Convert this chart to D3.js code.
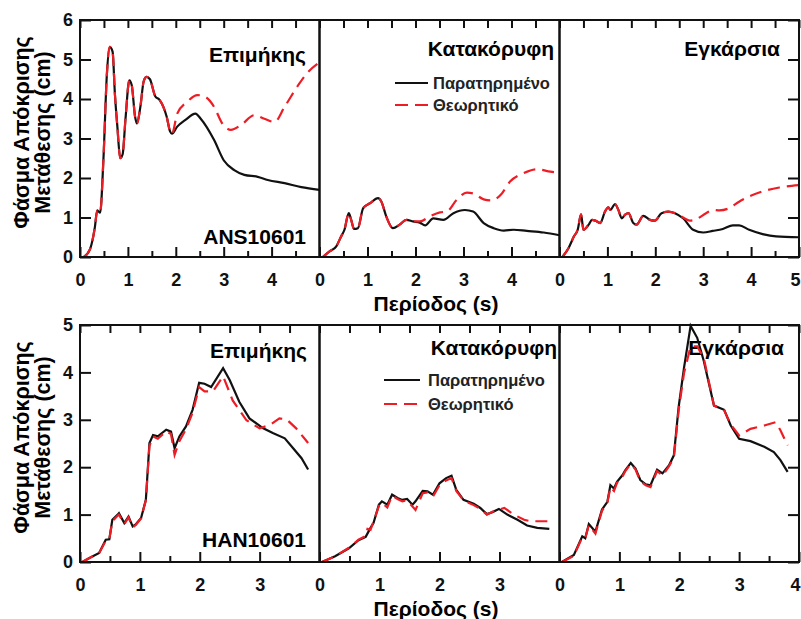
<!DOCTYPE html>
<html>
<head>
<meta charset="utf-8">
<script src="https://cdn.jsdelivr.net/npm/d3@7"></script>
<style>
  body { margin: 0; background: #fff; }
  svg { display: block; }
</style>
</head>
<body>
<div id="chart"></div>
<script>
'use strict';

// ---- data: [period (s), displacement (cm)] ----
const ansLongObs = [[0.08,0],[0.21,0.2],[0.31,0.75],[0.36,1.18],[0.42,1.12],[0.49,2.5],[0.56,4.6],[0.62,5.32],[0.68,5.2],[0.73,4.1],[0.78,3.3],[0.84,2.5],[0.89,2.6],[0.95,3.5],[1.03,4.47],[1.08,4.35],[1.15,3.55],[1.19,3.38],[1.26,3.8],[1.33,4.45],[1.39,4.56],[1.46,4.5],[1.57,4.07],[1.66,3.98],[1.74,3.8],[1.81,3.55],[1.88,3.18],[1.92,3.12],[2.03,3.3],[2.2,3.47],[2.41,3.63],[2.52,3.5],[2.8,2.96],[3.0,2.45],[3.22,2.2],[3.43,2.08],[3.71,2.03],[3.92,1.95],[4.27,1.87],[4.62,1.77],[5.0,1.7]];
const ansLongTheo = [[0.08,0],[0.21,0.2],[0.31,0.75],[0.36,1.18],[0.42,1.12],[0.49,2.5],[0.56,4.6],[0.62,5.32],[0.68,5.2],[0.73,4.1],[0.78,3.3],[0.84,2.5],[0.89,2.6],[0.95,3.5],[1.03,4.47],[1.08,4.35],[1.15,3.55],[1.19,3.38],[1.26,3.8],[1.33,4.45],[1.39,4.56],[1.46,4.5],[1.57,4.07],[1.66,3.98],[1.74,3.8],[1.81,3.55],[1.88,3.18],[1.92,3.12],[2.03,3.63],[2.24,3.93],[2.45,4.1],[2.62,4.05],[2.8,3.8],[2.97,3.38],[3.15,3.22],[3.36,3.34],[3.64,3.59],[3.85,3.5],[4.06,3.42],[4.27,3.8],[4.55,4.34],[4.76,4.68],[5.0,4.93]];

const ansVertObs = [[0.07,0],[0.21,0.14],[0.35,0.27],[0.45,0.52],[0.52,0.69],[0.61,1.11],[0.66,0.94],[0.72,0.71],[0.8,0.73],[0.91,1.24],[1.05,1.36],[1.22,1.49],[1.29,1.4],[1.39,1.03],[1.53,0.73],[1.67,0.82],[1.81,0.94],[1.95,0.9],[2.09,0.87],[2.2,0.8],[2.37,0.98],[2.58,0.94],[2.79,1.11],[3.03,1.19],[3.2,1.15],[3.42,0.86],[3.63,0.73],[3.84,0.67],[4.04,0.69],[4.32,0.66],[4.67,0.62],[5.0,0.55]];
const ansVertTheo = [[0.07,0],[0.21,0.14],[0.35,0.27],[0.45,0.52],[0.52,0.69],[0.61,1.11],[0.66,0.94],[0.72,0.71],[0.8,0.73],[0.91,1.24],[1.05,1.36],[1.22,1.49],[1.29,1.4],[1.39,1.03],[1.53,0.73],[1.67,0.82],[1.81,0.94],[1.95,0.9],[2.09,0.9],[2.3,1.03],[2.51,1.13],[2.65,1.15],[2.86,1.45],[3.07,1.63],[3.2,1.61],[3.42,1.46],[3.59,1.43],[3.8,1.61],[3.97,1.91],[4.25,2.12],[4.53,2.22],[4.81,2.16],[5.0,2.13]];

const ansTransObs = [[0.06,0],[0.19,0.23],[0.3,0.52],[0.38,0.69],[0.45,1.08],[0.5,0.69],[0.61,0.82],[0.68,0.94],[0.75,0.92],[0.85,0.86],[0.95,1.15],[1.02,1.26],[1.06,1.19],[1.16,1.34],[1.23,1.19],[1.3,0.98],[1.37,1.07],[1.44,1.11],[1.54,0.86],[1.61,0.82],[1.75,1.04],[1.89,0.94],[1.99,0.92],[2.13,1.11],[2.27,1.15],[2.41,1.11],[2.58,0.98],[2.79,0.69],[3.0,0.62],[3.2,0.66],[3.41,0.71],[3.62,0.8],[3.75,0.8],[3.96,0.69],[4.24,0.58],[4.52,0.52],[5.0,0.5]];
const ansTransTheo = [[0.06,0],[0.19,0.23],[0.3,0.52],[0.38,0.69],[0.45,1.08],[0.5,0.69],[0.61,0.82],[0.68,0.94],[0.75,0.92],[0.85,0.86],[0.95,1.15],[1.02,1.26],[1.06,1.19],[1.16,1.34],[1.23,1.19],[1.3,0.98],[1.37,1.07],[1.44,1.11],[1.54,0.86],[1.61,0.82],[1.75,1.04],[1.89,0.94],[1.99,0.92],[2.13,1.11],[2.27,1.15],[2.41,1.11],[2.58,1.0],[2.72,0.92],[2.86,0.96],[3.06,1.11],[3.2,1.19],[3.34,1.18],[3.55,1.24],[3.75,1.4],[3.96,1.53],[4.24,1.66],[4.59,1.76],[5.0,1.82]];

const hanLongObs = [[0.04,0],[0.15,0.08],[0.32,0.19],[0.43,0.47],[0.49,0.48],[0.54,0.89],[0.63,1.0],[0.65,1.03],[0.74,0.82],[0.81,0.96],[0.88,0.75],[0.93,0.79],[1.02,0.93],[1.1,1.31],[1.16,2.51],[1.22,2.68],[1.3,2.65],[1.44,2.79],[1.52,2.75],[1.58,2.4],[1.66,2.65],[1.77,2.86],[1.88,3.21],[1.99,3.78],[2.08,3.76],[2.19,3.69],[2.39,4.09],[2.5,3.84],[2.66,3.38],[2.83,3.03],[3.06,2.82],[3.22,2.72],[3.42,2.61],[3.56,2.4],[3.7,2.19],[3.81,1.95]];
const hanLongTheo = [[0.04,0],[0.15,0.08],[0.32,0.19],[0.43,0.45],[0.49,0.48],[0.54,0.86],[0.63,0.98],[0.65,1.0],[0.74,0.8],[0.81,0.94],[0.88,0.73],[0.93,0.78],[1.02,0.92],[1.1,1.3],[1.16,2.45],[1.22,2.65],[1.3,2.6],[1.44,2.76],[1.52,2.7],[1.58,2.26],[1.66,2.55],[1.77,2.8],[1.88,3.15],[1.99,3.69],[2.08,3.6],[2.22,3.6],[2.39,3.92],[2.55,3.41],[2.78,2.99],[3.0,2.82],[3.17,2.89],[3.33,3.03],[3.45,3.01],[3.61,2.82],[3.81,2.51]];

const hanVertObs = [[0.04,0],[0.26,0.12],[0.49,0.29],[0.65,0.46],[0.77,0.53],[0.85,0.72],[0.9,0.82],[0.99,1.21],[1.04,1.28],[1.13,1.21],[1.21,1.42],[1.3,1.35],[1.38,1.31],[1.46,1.33],[1.55,1.21],[1.6,1.28],[1.72,1.5],[1.8,1.49],[1.89,1.42],[2.0,1.66],[2.11,1.77],[2.2,1.82],[2.28,1.52],[2.4,1.31],[2.57,1.23],[2.68,1.14],[2.79,1.01],[2.88,1.05],[2.99,1.12],[3.13,1.0],[3.3,0.89],[3.46,0.77],[3.63,0.72],[3.83,0.7]];
const hanVertTheo = [[0.04,0],[0.26,0.12],[0.49,0.3],[0.65,0.47],[0.77,0.55],[0.8,0.7],[0.85,0.68],[0.9,0.85],[0.99,1.18],[1.04,1.25],[1.13,1.15],[1.21,1.4],[1.3,1.33],[1.38,1.28],[1.46,1.3],[1.6,1.1],[1.72,1.45],[1.8,1.47],[1.89,1.38],[2.0,1.62],[2.11,1.72],[2.2,1.77],[2.28,1.5],[2.4,1.3],[2.57,1.2],[2.68,1.12],[2.79,1.0],[2.88,1.06],[3.08,1.14],[3.24,1.0],[3.41,0.89],[3.52,0.86],[3.83,0.86]];

const hanTransObs = [[0.04,0],[0.24,0.15],[0.38,0.54],[0.43,0.5],[0.49,0.8],[0.6,0.64],[0.71,1.11],[0.8,1.27],[0.85,1.62],[0.91,1.55],[0.96,1.69],[1.05,1.83],[1.1,1.94],[1.19,2.09],[1.27,1.97],[1.35,1.73],[1.44,1.64],[1.52,1.62],[1.63,1.95],[1.72,1.87],[1.83,2.04],[1.91,2.25],[1.99,3.27],[2.08,4.1],[2.19,4.98],[2.3,4.73],[2.41,4.24],[2.58,3.3],[2.75,3.21],[2.86,2.88],[3.0,2.6],[3.19,2.55],[3.42,2.43],[3.58,2.32],[3.69,2.15],[3.81,1.9]];
const hanTransTheo = [[0.04,0],[0.24,0.13],[0.38,0.52],[0.43,0.5],[0.49,0.78],[0.6,0.6],[0.71,1.08],[0.8,1.25],[0.85,1.58],[0.91,1.5],[0.96,1.67],[1.05,1.8],[1.1,1.92],[1.19,2.07],[1.27,1.95],[1.35,1.7],[1.44,1.62],[1.52,1.58],[1.63,1.92],[1.72,1.82],[1.83,2.02],[1.91,2.2],[1.99,3.2],[2.08,3.99],[2.19,4.55],[2.3,4.55],[2.41,4.3],[2.58,3.3],[2.75,3.2],[2.86,2.9],[3.0,2.67],[3.19,2.81],[3.42,2.88],[3.61,2.95],[3.69,2.78],[3.81,2.46]];

const componentTitles = ["Επιμήκης", "Κατακόρυφη", "Εγκάρσια"];
const stationNames = ["ANS10601", "HAN10601"];
const seriesNames = ["Παρατηρημένο", "Θεωρητικό"];
const yAxisTitle = ["Φάσμα Απόκρισης", "Μετάθεσης (cm)"];
const xAxisTitle = "Περίοδος (s)";
const rowXMax = [5, 4];
const rowYMax = [6, 5];

// ---- layout ----
const width = 801, height = 619;
const colEdges = [80, 319.5, 559.5, 799];
const rows = [
    { top: 20, bottom: 257, curve: d3.curveMonotoneX,
      series: [[ansLongObs, ansLongTheo], [ansVertObs, ansVertTheo], [ansTransObs, ansTransTheo]],
      titleY: [54, 48, 48], titleX: [306, 554, 780], stationY: 236,
      legend: { x1: 395, x2: 428, tx: 433, y1: 83, y2: 105 }, xTitleY: 303 },
    { top: 325, bottom: 562, curve: d3.curveLinear,
      series: [[hanLongObs, hanLongTheo], [hanVertObs, hanVertTheo], [hanTransObs, hanTransTheo]],
      titleY: [350, 347, 347], titleX: [307, 557, 784], stationY: 539,
      legend: { x1: 384, x2: 420, tx: 428, y1: 380, y2: 404 }, xTitleY: 608 }
];
const FONT = "'Liberation Sans', Arial, Helvetica, sans-serif";

const svg = d3.select("#chart").append("svg")
    .attr("width", width)
    .attr("height", height)
    .attr("font-family", FONT);

rows.forEach((row, r) => {
    const xMax = rowXMax[r], yMax = rowYMax[r];
    const y = d3.scaleLinear().domain([0, yMax]).range([row.bottom, row.top]);

    for (let c = 0; c < 3; c++) {
        const x = d3.scaleLinear().domain([0, xMax]).range([colEdges[c], colEdges[c + 1]]);
        const g = svg.append("g").classed("panel", true);

        // panel title (curves are drawn over it)
        g.append("text")
            .attr("x", row.titleX[c])
            .attr("y", row.titleY[c])
            .attr("text-anchor", "end")
            .attr("dominant-baseline", "central")
            .attr("font-size", 21)
            .attr("font-weight", "bold")
            .text(componentTitles[c]);

        // bottom axis: inward ticks every 0.5, labels on integers
        const halfTicks = d3.range(0, xMax + 0.001, 0.5);
        const bottomAxis = g.append("g")
            .attr("transform", "translate(0," + row.bottom + ")")
            .call(d3.axisBottom(x)
                .tickValues(halfTicks)
                .tickSize(-10)
                .tickPadding(16)
                .tickFormat(d => (d % 1 === 0 && (c === 2 || d < xMax)) ? d3.format("d")(d) : ""));
        bottomAxis.selectAll(".tick line")
            .attr("y2", d => d % 1 === 0 ? -10 : -6);
        // last label of the row sits on the right edge of the picture
        if (c === 2) {
            bottomAxis.selectAll(".tick text")
                .filter(d => d === xMax)
                .attr("text-anchor", "end")
                .attr("x", 1);
        }

        // top axis: inward ticks, no labels
        g.append("g")
            .attr("transform", "translate(0," + row.top + ")")
            .call(d3.axisTop(x).tickValues(halfTicks).tickSize(-8).tickFormat(""));

        if (c === 0) {
            g.append("g")
                .attr("transform", "translate(" + colEdges[0] + ",0)")
                .call(d3.axisLeft(y).ticks(yMax).tickSize(-11).tickPadding(7).tickFormat(d3.format("d")));
        }
        if (c === 2) {
            g.append("g")
                .attr("transform", "translate(" + colEdges[3] + ",0)")
                .call(d3.axisRight(y).ticks(yMax).tickSize(-11).tickFormat(""));
        }

        g.selectAll(".domain").remove();
        g.selectAll(".tick line").attr("stroke", "#111").attr("stroke-width", 2);
        g.selectAll(".tick text")
            .attr("font-family", FONT)
            .attr("font-size", 18)
            .attr("font-weight", "bold")
            .attr("fill", "#111");

        // curves
        const line = d3.line()
            .x(d => x(d[0]))
            .y(d => y(d[1]))
            .curve(row.curve);
        g.append("path")
            .datum(row.series[c][0])
            .attr("d", line)
            .attr("fill", "none")
            .attr("stroke", "#111")
            .attr("stroke-width", 2.2);
        g.append("path")
            .datum(row.series[c][1])
            .attr("d", line)
            .attr("fill", "none")
            .attr("stroke", "#ee1c24")
            .attr("stroke-width", 2.2)
            .attr("stroke-dasharray", "12,7");

        // frame
        g.append("rect")
            .attr("x", colEdges[c])
            .attr("y", row.top)
            .attr("width", colEdges[c + 1] - colEdges[c])
            .attr("height", row.bottom - row.top)
            .attr("fill", "none")
            .attr("stroke", "#111")
            .attr("stroke-width", 2);
    }

    // station label
    svg.append("text")
        .attr("x", 306)
        .attr("y", row.stationY)
        .attr("text-anchor", "end")
        .attr("dominant-baseline", "central")
        .attr("font-size", 21)
        .attr("font-weight", "bold")
        .text(stationNames[r]);

    // legend in the middle panel
    const lg = row.legend;
    [lg.y1, lg.y2].forEach((ly, i) => {
        svg.append("line")
            .attr("x1", lg.x1).attr("x2", lg.x2)
            .attr("y1", ly).attr("y2", ly)
            .attr("stroke", i === 0 ? "#111" : "#ee1c24")
            .attr("stroke-width", 2.2)
            .attr("stroke-dasharray", i === 0 ? null : "13,7");
        svg.append("text")
            .attr("x", lg.tx)
            .attr("y", ly)
            .attr("dominant-baseline", "central")
            .attr("font-size", 16.5)
            .attr("font-weight", "bold")
            .attr("fill", "#222")
            .text(seriesNames[i]);
    });

    // y axis title (two rotated lines)
    const yc = (row.top + row.bottom) / 2 - 6;
    yAxisTitle.forEach((t, i) => {
        svg.append("text")
            .attr("transform", "translate(" + (22 + i * 21) + "," + yc + ") rotate(-90)")
            .attr("text-anchor", "middle")
            .attr("dominant-baseline", "central")
            .attr("font-size", 21.5)
            .attr("font-weight", "bold")
            .text(t);
    });

    // x axis title
    svg.append("text")
        .attr("x", 436)
        .attr("y", row.xTitleY)
        .attr("text-anchor", "middle")
        .attr("dominant-baseline", "central")
        .attr("font-size", 21)
        .attr("font-weight", "bold")
        .text(xAxisTitle);
});
</script>
</body>
</html>
